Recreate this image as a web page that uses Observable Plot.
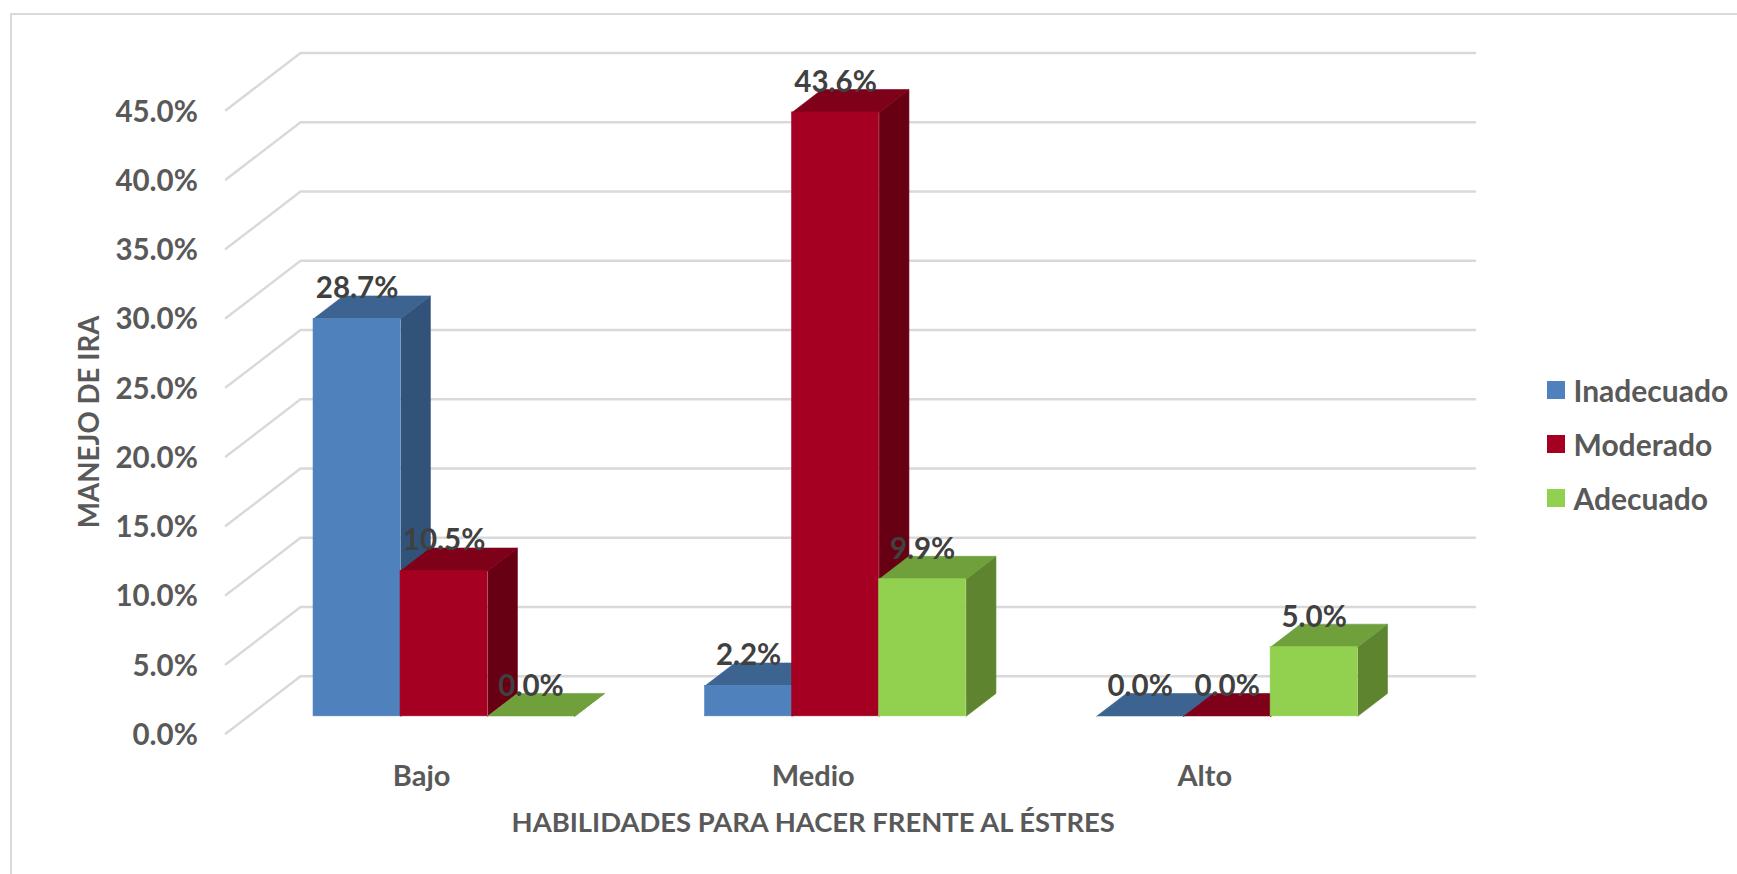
<!DOCTYPE html>
<html>
<head>
<meta charset="utf-8">
<script src="https://cdn.jsdelivr.net/npm/d3@7"></script>
<script src="https://cdn.jsdelivr.net/npm/@observablehq/plot@0.6"></script>
<style>
  html, body { margin: 0; padding: 0; background: #fff; }
  #wrap { position: relative; width: 1737px; height: 874px; overflow: hidden; font-family: Lato, sans-serif; }
  #frame { position: absolute; left: 10px; top: 13px; right: -4px; bottom: -4px; border: 2px solid #d9d9d9; }
  #legend { position: absolute; left: 1547px; top: 362.5px; font-weight: 700; font-size: 30px; color: #595959; }
  #legend div { display: flex; align-items: center; height: 54.4px; }
  #legend i { display: block; width: 18px; height: 18px; margin-right: 8.5px; }
  svg { position: absolute; left: 0; top: 0; background: transparent !important; }
</style>
</head>
<body>
<div id="wrap"><div id="frame"></div><div id="chart"></div><div id="legend"></div></div>
<script>
const groups = ["Bajo", "Medio", "Alto"];
const seriesNames = ["Inadecuado", "Moderado", "Adecuado"];
const inadecuado = [28.7, 2.2, 0.0];
const moderado = [10.5, 43.6, 0.0];
const adecuado = [0.0, 9.9, 5.0];
const yTicks = [0, 5, 10, 15, 20, 25, 30, 35, 40, 45];
const xLabel = "HABILIDADES PARA HACER FRENTE AL ÉSTRES";
const yLabel = "MANEJO DE IRA";

const values = [inadecuado, moderado, adecuado];
const frontColors = ["#4f81bd", "#a50021", "#92d050"];
const topColors = ["#3d6491", "#7f0019", "#70a03c"];
const sideColors = ["#325379", "#680014", "#5e8430"];

// Oblique projection of the 3-D chart in data units.
const depthX = 0.1906, depthY = 4.13;
const barW = 2 / 9, barGap = 1 / 6, barNear = 0.3, barFar = 0.7;
const px = (x, d) => x + d * depthX;
const py = (v, d) => v + d * depthY;

const gridPts = yTicks.flatMap(v => [
  {v, x: px(0, 0), y: py(v, 0)},
  {v, x: px(0, 1), y: py(v, 1)},
  {v, x: px(3, 1), y: py(v, 1)}
]);

const bars = [];
values.forEach((vals, s) => vals.forEach((v, g) => {
  bars.push({s, g, v, x0: g + barGap + s * barW, x1: g + barGap + (s + 1) * barW, id: `${s}-${g}`});
}));

const poly = (b, corners) => corners.map(([x, v, d]) => ({id: b.id, x: px(x, d), y: py(v, d)}));
const sideFace = b => poly(b, [[b.x1, 0, barNear], [b.x1, 0, barFar], [b.x1, b.v, barFar], [b.x1, b.v, barNear]]);
const topFace = b => poly(b, [[b.x0, b.v, barNear], [b.x0, b.v, barFar], [b.x1, b.v, barFar], [b.x1, b.v, barNear]]);

const barMarks = [];
bars.forEach(b => {
  barMarks.push(Plot.line(sideFace(b), {x: "x", y: "y", z: "id", fill: sideColors[b.s], stroke: sideColors[b.s], strokeWidth: 0.6}));
  barMarks.push(Plot.line(topFace(b), {x: "x", y: "y", z: "id", fill: topColors[b.s], stroke: topColors[b.s], strokeWidth: 0.6}));
  barMarks.push(Plot.rect([b], {
    x1: d => px(d.x0, barNear), x2: d => px(d.x1, barNear),
    y1: d => py(0, barNear), y2: d => py(d.v, barNear),
    fill: frontColors[b.s], stroke: frontColors[b.s], strokeWidth: 0.6, inset: 0
  }));
});

const chart = Plot.plot({
  width: 1737, height: 874,
  marginLeft: 225.4, marginRight: 337, marginTop: 109.7, marginBottom: 141,
  style: {fontFamily: "Lato, sans-serif", fontWeight: 700, background: "transparent", overflow: "visible"},
  x: {type: "linear", domain: [0, 3], label: null},
  y: {type: "linear", domain: [0, 45], label: null},
  marks: [
    Plot.line(gridPts, {x: "x", y: "y", z: "v", stroke: "#d9d9d9", strokeWidth: 2.4}),
    ...barMarks,
    Plot.text(bars, {
      x: d => px((d.x0 + d.x1) / 2, barNear), y: d => py(d.v, barNear),
      text: d => d.v.toFixed(1) + "%", dy: -30,
      fontSize: 29.5, fontWeight: 700, fill: "#404040"
    }),
    Plot.axisY(yTicks, {
      anchor: "left", tickSize: 0, tickPadding: 28, fontSize: 29.5, fill: "#595959", dy: 2,
      tickFormat: d => d.toFixed(1) + "%", label: null
    }),
    Plot.axisX([0.5, 1.5, 2.5], {
      anchor: "bottom", tickSize: 0, tickPadding: 32, fontSize: 29, fill: "#595959",
      tickFormat: d => groups[Math.floor(d)], label: null
    }),
    Plot.text([xLabel], {
      x: () => 1.5, y: () => 0, dy: 90, text: d => d,
      fontSize: 27.4, fontWeight: 700, fill: "#595959"
    }),
    Plot.text([yLabel], {
      x: () => 0, y: () => 22.5, dx: -135.4, rotate: -90, text: d => d,
      fontSize: 27.7, fontWeight: 700, fill: "#595959"
    })
  ]
});
document.getElementById("chart").appendChild(chart);

const legend = document.getElementById("legend");
seriesNames.forEach((name, i) => {
  const row = document.createElement("div");
  const sw = document.createElement("i");
  sw.style.background = frontColors[i];
  const t = document.createElement("span");
  t.textContent = name;
  row.append(sw, t);
  legend.appendChild(row);
});
</script>
</body>
</html>
